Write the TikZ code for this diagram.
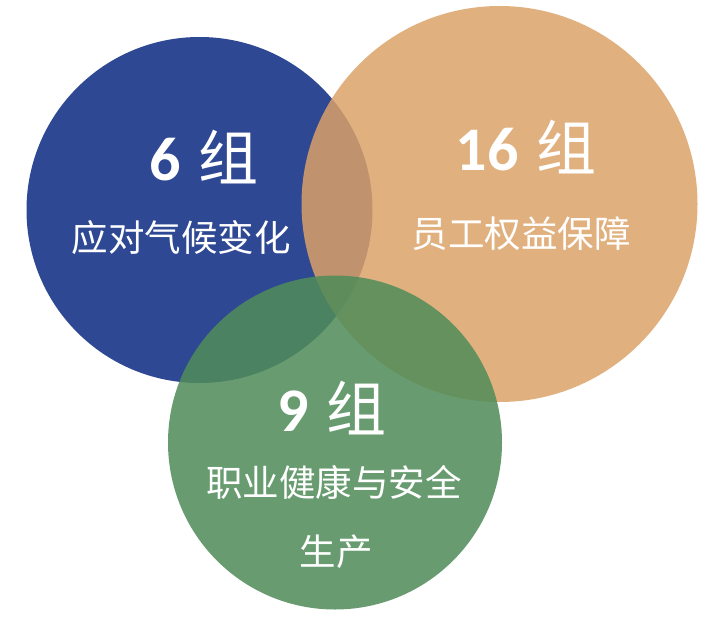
\documentclass[tikz,border=0pt]{standalone}
\usepackage{fontspec}
\newfontfamily\cjk{Noto Sans CJK SC}
\newfontfamily\numfont{Carlito}[BoldFont={Carlito Bold}]
\definecolor{cblue}{RGB}{46,72,147}
\definecolor{corange}{RGB}{220,162,103}
\definecolor{cgreen}{RGB}{80,140,89}
\begin{document}
\begin{tikzpicture}[x=1pt,y=-1pt,
  bubble/.style={circle,draw=none,inner sep=0pt},
  head/.style={text=white,inner sep=0pt,anchor=center},
  body/.style={text=white,inner sep=0pt,anchor=center,font=\cjk\fontsize{36.5}{42}\selectfont}]
\useasboundingbox[fill=white] (0,0) rectangle (725,623);
\node[bubble,fill=cblue,minimum size=346pt] (blue) at (199.5,210) {};
\node[bubble,fill=corange,fill opacity=0.84,minimum size=396pt] (orange) at (499.5,204) {};
\node[bubble,fill=cgreen,fill opacity=0.86,minimum size=334pt] (green) at (335,442.5) {};
\node[head] (h1) at (204,157) {\numfont\bfseries\fontsize{62}{66}\selectfont 6\hspace{18pt}\cjk\mdseries\fontsize{60}{66}\selectfont 组};
\node[body] (t1) at (181,238) {应对气候变化};
\node[head] (h2) at (526,147) {\numfont\bfseries\fontsize{62}{66}\selectfont 16\hspace{18pt}\cjk\mdseries\fontsize{60}{66}\selectfont 组};
\node[body] (t2) at (521,234) {员工权益保障};
\node[head] (h3) at (332,408) {\numfont\bfseries\fontsize{62}{66}\selectfont 9\hspace{18pt}\cjk\mdseries\fontsize{60}{66}\selectfont 组};
\node[body] (t3) at (334,482) {职业健康与安全};
\node[body] (t4) at (336,552) {生产};
\end{tikzpicture}
\end{document}
